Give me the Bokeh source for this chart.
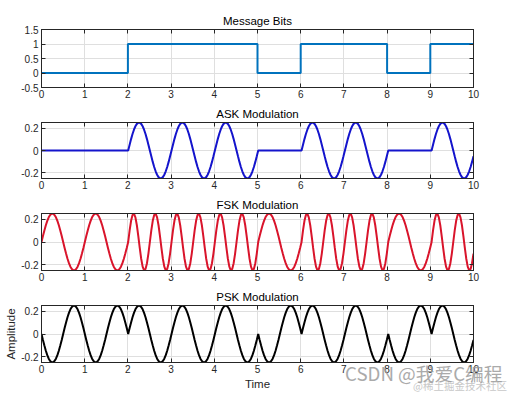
import numpy as np
from bokeh.plotting import figure
from bokeh.layouts import column
from bokeh.models import Range1d, FixedTicker, CustomJSTickFormatter, LinearAxis, Div
from bokeh.embed import file_html
from bokeh.resources import INLINE

# ---- data ----
bits = [0, 0, 1, 1, 1, 0, 1, 1, 0, 1]
samples_per_bit = 30
amplitude = 0.25
ask_cycles_per_bit = 1
fsk_cycles_per_bit = [1, 2]          # cycles per bit for bit 0 / bit 1
psk_phase = [np.pi, 0.0]             # phase for bit 0 / bit 1

x_ticks = [0, 1, 2, 3, 4, 5, 6, 7, 8, 9, 10]
bit_y_ticks = [-0.5, 0, 0.5, 1, 1.5]
sig_y_ticks = [-0.2, 0, 0.2]
titles = ["Message Bits", "ASK Modulation", "FSK Modulation", "PSK Modulation"]
colors = ["#0072BD", "#1414cc", "#d9142b", "#000000"]
watermark = "CSDN @我爱C编程"
watermark2 = "@稀土掘金技术社区"

# ---- derived signals ----
n = len(bits)
tau = np.arange(samples_per_bit) / samples_per_bit
t = np.linspace(0, n, n * samples_per_bit)
ask = np.concatenate([amplitude * b * np.sin(2 * np.pi * ask_cycles_per_bit * tau) for b in bits])
fsk = np.concatenate([amplitude * np.sin(2 * np.pi * fsk_cycles_per_bit[b] * tau) for b in bits])
psk = np.concatenate([amplitude * np.sin(2 * np.pi * tau + psk_phase[b]) for b in bits])
bit_x = list(range(n + 1))
bit_y = bits + [bits[-1]]

FONT = "Liberation Sans"
AX = "#262626"


def make_fig(title, yr, yticks, height, top, bottom, xlabel=None, ylabel=None):
    p = figure(width=510, height=height, x_range=Range1d(0, 10), y_range=Range1d(*yr),
               output_backend="svg", toolbar_location=None,
               min_border_left=41, min_border_right=37,
               min_border_top=top, min_border_bottom=bottom)
    p.title.text = title
    p.title.align = "center"
    p.title.text_font = FONT
    p.title.text_font_size = "11.5px"
    p.title.text_font_style = "normal"
    p.title.text_color = "black"
    p.title.standoff = 4.5
    p.outline_line_color = AX
    p.outline_line_alpha = 1
    p.outline_line_width = 1
    p.xaxis.ticker = FixedTicker(ticks=x_ticks)
    p.yaxis.ticker = FixedTicker(ticks=yticks)
    for ax in (p.xaxis[0], p.yaxis[0]):
        ax.formatter = CustomJSTickFormatter(code="return String(tick);")
        ax.major_tick_in = 4
        ax.major_tick_out = 0
        ax.minor_tick_line_color = None
        ax.axis_line_color = AX
        ax.major_tick_line_color = AX
        ax.major_label_text_font = FONT
        ax.major_label_text_font_size = "10px"
        ax.major_label_text_color = AX
        ax.major_label_standoff = 2
        ax.axis_label_text_font = FONT
        ax.axis_label_text_font_size = "11.5px"
        ax.axis_label_text_font_style = "normal"
        ax.axis_label_text_color = AX
        ax.axis_label_standoff = 2
    p.yaxis[0].major_label_standoff = 3
    p.yaxis[0].axis_label_standoff = 1
    if xlabel:
        p.xaxis.axis_label = xlabel
    if ylabel:
        p.yaxis.axis_label = ylabel
    for loc, ticks in (("above", x_ticks), ("right", yticks)):
        ax = LinearAxis(ticker=FixedTicker(ticks=ticks),
                        formatter=CustomJSTickFormatter(code="return '';"),
                        major_tick_in=4, major_tick_out=0, minor_tick_line_color=None,
                        major_label_text_font_size="0px", major_label_standoff=0,
                        axis_line_color=AX, major_tick_line_color=AX)
        p.add_layout(ax, loc)
    p.grid.grid_line_color = "#dfdfdf"
    p.grid.grid_line_width = 1
    p.background_fill_color = "white"
    p.border_fill_color = "white"
    return p


f1 = make_fig(titles[0], (-0.5, 1.5), bit_y_ticks, 103, 29, 16)
f1.step(bit_x, bit_y, mode="after", line_width=2, color=colors[0])

f2 = make_fig(titles[1], (-0.25, 0.25), sig_y_ticks, 91, 19, 16)
f2.line(t, ask, line_width=2, color=colors[1])

f3 = make_fig(titles[2], (-0.25, 0.25), sig_y_ticks, 92, 19, 16)
f3.line(t, fsk, line_width=2, color=colors[2])

f4 = make_fig(titles[3], (-0.25, 0.25), sig_y_ticks, 106, 19, 30, xlabel="Time", ylabel="Amplitude")
f4.line(t, psk, line_width=2, color=colors[3])

# site watermark laid over the bottom right of the picture
wm1 = Div(text=watermark, width=172, height=18,
          styles={"position": "absolute", "left": "340px", "top": "359px",
                  "font-family": "'Noto Sans CJK SC'", "font-size": "18.7px",
                  "line-height": "18px", "color": "#9c9c9c", "white-space": "nowrap",
                  "opacity": "0.85", "z-index": "10"})
wm2 = Div(text=watermark2, width=98, height=10,
          styles={"position": "absolute", "left": "408px", "top": "376px",
                  "font-family": "'Noto Sans CJK SC'", "font-size": "10.5px",
                  "line-height": "10px", "color": "#c8c8c8", "white-space": "nowrap",
                  "z-index": "9"})

layout = column(f1, f2, f3, f4, wm2, wm1, spacing=0)
open("out.html", "w").write(file_html(layout, INLINE))
